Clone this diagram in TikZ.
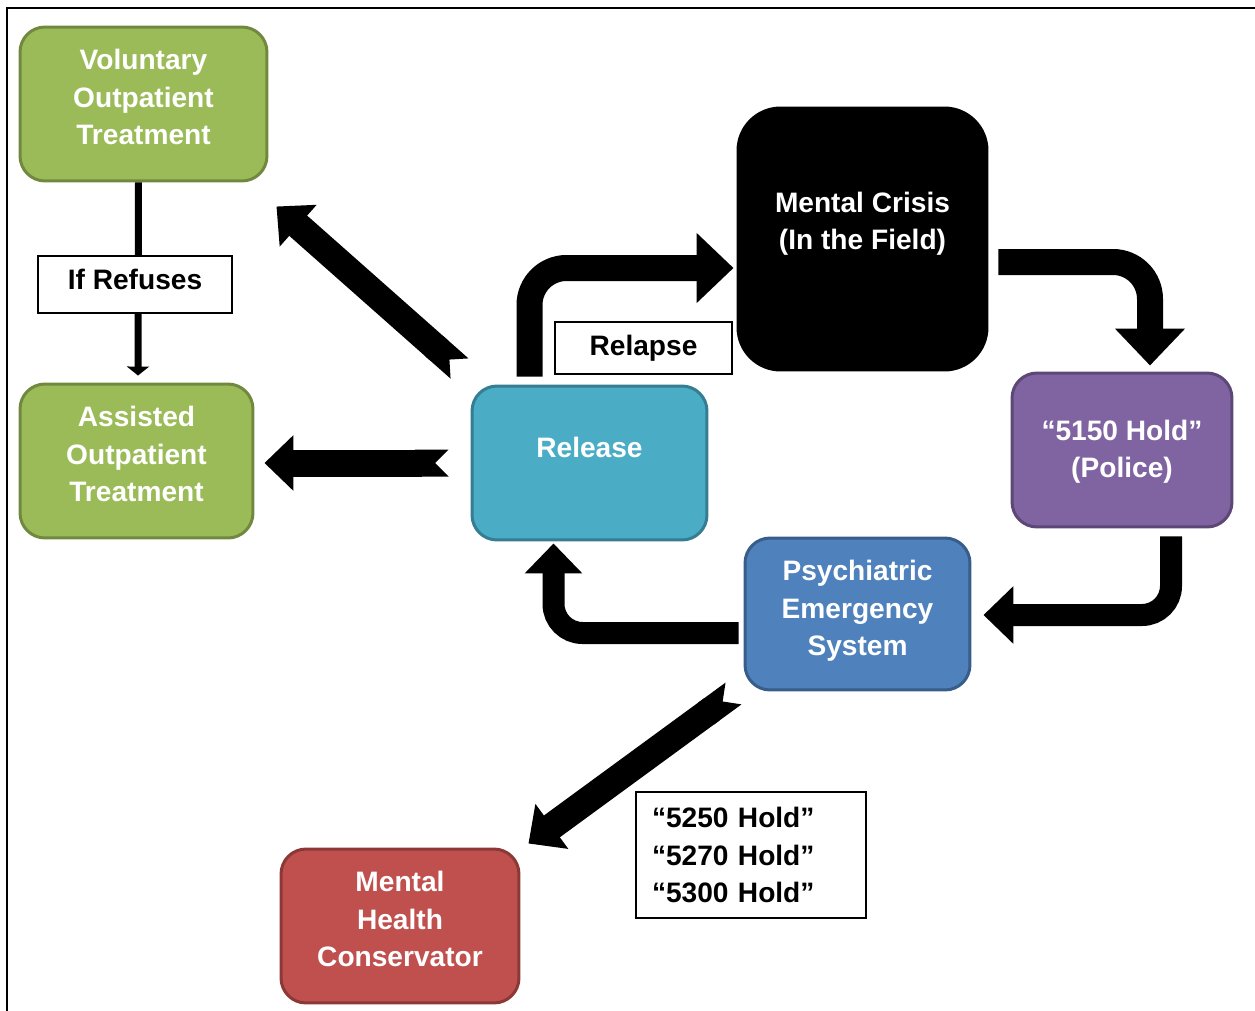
\documentclass[tikz,border=0pt]{standalone}
\usepackage{fontspec}
\setmainfont{Liberation Sans}
\usetikzlibrary{arrows.meta,calc}
\definecolor{grn}{RGB}{155,187,89}
\definecolor{grnline}{RGB}{113,137,63}
\definecolor{teal}{RGB}{75,172,198}
\definecolor{tealline}{RGB}{53,125,145}
\definecolor{purp}{RGB}{128,100,162}
\definecolor{purpline}{RGB}{92,71,118}
\definecolor{blu}{RGB}{79,129,189}
\definecolor{bluline}{RGB}{56,93,138}
\definecolor{rd}{RGB}{192,80,77}
\definecolor{rdline}{RGB}{140,56,54}

\begin{document}
\begin{tikzpicture}[x=0.02cm,y=-0.02cm,
	box/.style={rectangle, rounded corners=0.5cm, line width=0.06cm, inner sep=0pt},
	txt/.style={text=white, font=\bfseries\fontsize{16}{21.3}\selectfont, align=center},
	tag/.style={rectangle, draw=black, fill=white, line width=0.03cm, inner sep=0pt, font=\bfseries\fontsize{16}{21.3}\selectfont},
	notched/.style={line width=0.54cm, {Triangle Cap[reversed]}-{Triangle[width=1.08cm,length=0.58cm]}},
	bentbig/.style={line width=0.52cm, rounded corners=0.74cm, -{Triangle[width=1.36cm,length=0.74cm]}},
	bentsmall/.style={line width=0.44cm, rounded corners=0.58cm, -{Triangle[width=1.12cm,length=0.6cm]}}]
	\useasboundingbox (0,0) rectangle (1255,1011);
	\draw[line width=0.04cm] (1255,8) -- (7,8) -- (7,1011);

	% boxes
	\node[box, fill=grn, draw=grnline, minimum width=4.94cm, minimum height=3.08cm, label={[txt,yshift=0.14cm]center:{Voluntary\\Outpatient\\Treatment}}] (vol) at (143.5,104) {};
	\node[box, fill=grn, draw=grnline, minimum width=4.66cm, minimum height=3.08cm, label={[txt,yshift=0.14cm]center:{Assisted\\Outpatient\\Treatment}}] (aot) at (136.5,461) {};
	\node[box, fill=teal, draw=tealline, minimum width=4.7cm, minimum height=3.08cm, label={[txt,yshift=0.32cm]center:{Release}}] (release) at (589.5,463) {};
	\node[box, rounded corners=0.85cm, fill=black, draw=black, minimum width=4.98cm, minimum height=5.24cm, label={[txt,yshift=0.3cm]center:{Mental Crisis\\(In the Field)}}] (crisis) at (862.5,239) {};
	\node[box, fill=purp, draw=purpline, minimum width=4.4cm, minimum height=3.08cm, label={[txt,yshift=-0.03cm]center:{“5150 Hold”\\(Police)}}] (hold) at (1122,450) {};
	\node[box, fill=blu, draw=bluline, minimum width=4.5cm, minimum height=3.04cm, label={[txt,yshift=0.06cm]center:{Psychiatric\\Emergency\\System}}] (pes) at (857.5,614) {};
	\node[box, fill=rd, draw=rdline, minimum width=4.76cm, minimum height=3.08cm, label={[txt,yshift=0.14cm]center:{Mental\\Health\\Conservator}}] (mhc) at (400,926) {};

	% if refuses
	\draw[line width=0.14cm, -{Triangle[width=0.44cm,length=0.18cm]}] ($(vol.south)+(-5,0)$) -- ($(aot.north)+(1.5,-7)$);
	\node[tag, minimum width=3.88cm, minimum height=1.14cm, label={[font=\bfseries\fontsize{16}{21.3}\selectfont,yshift=0.1cm]center:If Refuses}] (refuses) at (135,284.5) {};

	% out of release
	\draw[notched] ($(release.north west)+(-11,-16)$) -- ($(vol.south east)+(8,24)$);
	\draw[notched] ($(release.west)+(-22,0)$) -- ($(aot.east)+(10,2)$);
	\draw[bentbig] ($(release.north)+(-60,-8)$) |- ($(crisis.west)+(-3,29)$);
	\node[tag, minimum width=3.54cm, minimum height=1.04cm] (relapse) at (643.5,348) {Relapse};

	% the loop
	\draw[bentbig] ($(crisis.east)+(10,23)$) -| ($(hold.north)+(28,-6)$);
	\draw[bentsmall] ($(hold.south)+(49,8)$) |- ($(pes.east)+(12,1)$);
	\draw[bentsmall] ($(pes.west)+(-5,19)$) -| ($(release.south)+(-36,2)$);

	% holds
	\draw[notched] ($(pes.south west)+(-10,2)$) -- ($(mhc.north east)+(8,-4)$);
	\node[tag, align=left, text width=3.96cm, inner xsep=0.32cm, minimum height=2.52cm] (holds) at (751,855) {“5250 Hold”\\“5270 Hold”\\“5300 Hold”};
\end{tikzpicture}
\end{document}
